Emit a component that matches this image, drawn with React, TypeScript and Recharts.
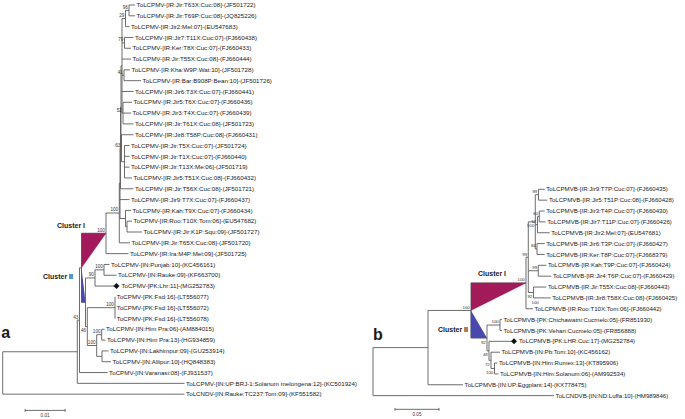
import React from 'react';
import { ScatterChart, Scatter, XAxis, YAxis, ReferenceLine } from 'recharts';

// panel a: internal nodes [id, parent, branch length, bootstrap]
const nodesA: [string, string, number, number | null][] = [
  ['R', '', 0, null],
  ['ING', 'R', 0.01865, null],
  ['N43', 'ING', 0.00055, 43],
  ['CP', 'N43', 0.0005, null],
  ['C1', 'CP', 0.006125, 100],
  ['X', 'C1', 0.003325, 100],
  ['Y', 'X', 0.000175, null],
  ['Z', 'Y', 0.000125, null],
  ['Q', 'Z', 0.000125, null],
  ['A', 'Q', 0.00025, null],
  ['N29', 'A', 0.000875, 29],
  ['N96', 'N29', 0.000875, 96],
  ['N79', 'A', 0.000625, 79],
  ['N41', 'A', 0.0005, 41],
  ['N52', 'A', 0.00025, 52],
  ['B', 'Q', 0.000125, 63],
  ['B2', 'B', 0.00075, null],
  ['W', 'Y', 0.001375, null],
  ['V', 'W', 0.000375, null],
  ['C2', 'CP', 0.001, null],
  ['N90', 'C2', 0.002375, 90],
  ['NPR', 'N90', 0.00225, 100],
  ['N46', 'C2', 0.00045, 46],
  ['NF', 'N46', 0.006925, 100],
  ['NHL', 'N46', 0.00235, 100],
  ['HP', 'NHL', 0.00125, 100],
  ['LA', 'NHL', 0.001325, null],
];

// panel a: tips in drawing order [parent, branch length, name, marked]
const tipsA: [string, number, string, boolean?][] = [
  ['N96', 0.0015, 'ToLCPMV-[IR:Jir:T63X:Cuc:08]-(JF501722)'],
  ['N96', 0.0015, 'ToLCPMV-[IR:Jir:T69P:Cuc:08]-(JQ825226)'],
  ['N29', 0.001, 'ToLCPMV-[IR:Jir2:Mel:07]-(EU547683)'],
  ['N79', 0.00225, 'ToLCPMV-[IR:Jir7:T11X:Cuc:07]-(FJ660438)'],
  ['N79', 0.001625, 'ToLCPMV-[IR:Ker:T8X:Cuc:07]-(FJ660433)'],
  ['A', 0.00225, 'ToLCPMV-[IR:Jir:T55X:Cuc:08]-(FJ660444)'],
  ['N41', 0.0015, 'ToLCPMV-[IR:Kha:W9P:Wat:10]-(JF501728)'],
  ['N41', 0.00425, 'ToLCPMV-[IR:Bar:B908P:Bean:10]-(JF501726)'],
  ['A', 0.002875, 'ToLCPMV-[IR:Jir6:T3X:Cuc:07]-(FJ660441)'],
  ['N52', 0.00225, 'ToLCPMV-[IR:Jir5:T6X:Cuc:07]-(FJ660436)'],
  ['N52', 0.002, 'ToLCPMV-[IR:Jir3:T4X:Cuc:07]-(FJ660439)'],
  ['N52', 0.002625, 'ToLCPMV-[IR:Jir:T61X:Cuc:08]-(JF501723)'],
  ['B', 0.003, 'ToLCPMV-[IR:Jir8:T58P:Cuc:08]-(FJ660431)'],
  ['B2', 0.00125, 'ToLCPMV-[IR:Jir:T5X:Cuc:07]-(JF501724)'],
  ['B2', 0.00125, 'ToLCPMV-[IR:Jir:T1X:Cuc:07]-(FJ660440)'],
  ['B2', 0.00125, 'ToLCPMV-[IR:Jir:T13X:Me:06]-(JF501719)'],
  ['B2', 0.001875, 'ToLCPMV-[IR:Jir5:T51X:Cuc:08]-(FJ660432)'],
  ['Z', 0.00325, 'ToLCPMV-[IR:Jir:T56X:Cuc:08]-(JF501721)'],
  ['Y', 0.002375, 'ToLCPMV-[IR:Jir9:T7X:Cuc:07]-(FJ660437)'],
  ['W', 0.001375, 'ToLCPMV-[IR:Kah:T9X:Cuc:07]-(FJ660434)'],
  ['V', 0.00125, 'ToCPMV-[IR:Roo:T10X:Tom:06]-(EU547682)'],
  ['V', 0.00375, 'ToLCPMV-[IR:Jir:K1P:Squ:09]-(JF501727)'],
  ['X', 0.002675, 'ToLCPMV-[IR:Jir:T65X:Cuc:08]-(JF501720)'],
  ['C1', 0.005625, 'ToLCPMV-[IR:Ira:M4P:Mel:09]-(JF501725)'],
  ['NPR', 0.001375, 'ToLCPMV-[IN:Punjab:10]-(KC456161)'],
  ['NPR', 0.003125, 'ToLCPMV-[IN:Rauke:09]-(KF663700)'],
  ['N90', 0.005375, 'ToCPMV-[PK:Lhr:11]-(MG252783)', true],
  ['NF', 0.00005, 'ToCPMV-[PK:Fsd:16]-(LT556077)'],
  ['NF', 0.00005, 'ToCPMV-[PK:Fsd:16]-(LT556072)'],
  ['NF', 0.00005, 'ToCPMV-[PK:Fsd:16]-(LT556078)'],
  ['HP', 0.0007, 'ToLCPMV-[IN:Him Pra:06]-(AM884015)'],
  ['HP', 0.00095, 'ToLCPMV-[IN:Him Pra:13]-(HG934859)'],
  ['LA', 0.001625, 'ToLCPMV-[IN:Lakhimpur:09]-(GU253914)'],
  ['LA', 0.00225, 'ToLCPMV-[IN:Allipur:10]-(HQ848383)'],
  ['N43', 0.007, 'ToCPMV-[IN:Varanasi:08]-(FJ931537)'],
  ['ING', 0.0268, 'ToLCPMV-[IN:UP:BRJ-1:Solanum melongena:12]-(KC501924)'],
  ['R', 0.04545, 'ToLCNDV-[IN:Rauke:TC237:Tom:09]-(KF551582)'],
];

// panel b: internal nodes [id, parent, branch length, bootstrap]
const nodesB: [string, string, number, number | null][] = [
  ['R', '', 0, null],
  ['ING', 'R', 0.0625, null],
  ['CP', 'ING', 0.04886, 100],
  ['C1', 'CP', 0.0625, 100],
  ['K', 'C1', 0.00261, 99],
  ['H', 'K', 0.00795, 100],
  ['N89', 'H', 0.00364, 89],
  ['N52', 'H', 0.0025, 52],
  ['N60', 'N52', 0.00205, 60],
  ['N84', 'H', 0.00193, 84],
  ['N99', 'K', 0.01136, 99],
  ['M92', 'K', 0.00591, 92],
  ['M100', 'M92', 0.00739, 100],
  ['C2', 'CP', 0.01818, 92],
  ['NCh', 'C2', 0.01477, 100],
  ['N48', 'C2', 0.00227, 48],
  ['N72', 'N48', 0.00227, 72],
  ['NRS', 'N72', 0.00398, 100],
];

const tipsB: [string, number, string, boolean?][] = [
  ['N89', 0.00705, 'ToLCPMVB-[IR:Jir9:T7P:Cuc:07]-(FJ660435)'],
  ['N89', 0.01, 'ToLCPMVB-[IR:Jir5:T51P:Cuc:08]-(FJ660428)'],
  ['N60', 0.00614, 'ToLCPMVB-[IR:Jir3:T4P:Cuc:07]-(FJ660430)'],
  ['N60', 0.00727, 'ToLCPMVB-[IR:Jir7:T11P:Cuc:07]-(FJ660426)'],
  ['N52', 0.01386, 'ToLCPMVB-[IR:Jir2:Mel:07]-(EU547681)'],
  ['N84', 0.00875, 'ToLCPMVB-[IR:Jir6:T3P:Cuc:07]-(FJ660427)'],
  ['N84', 0.00875, 'ToLCPMVB-[IR:Ker:T8P:Cuc:07]-(FJ668379)'],
  ['N99', 0.00909, 'ToLCPMVB-[IR:Kah:T9P:Cuc:07]-(FJ660424)'],
  ['N99', 0.01477, 'ToLCPMVB-[IR:Jir4:T6P:Cuc:07]-(FJ660429)'],
  ['M92', 0.01455, 'ToLCPMVB-[IR:Jir:T55X:Cuc:08]-(FJ660443)'],
  ['M100', 0.01216, 'ToLCPMVB-[IR:Jir8:T58X:Cuc:08]-(FJ660425)'],
  ['C1', 0.00795, 'ToLCPMVB-[IR:Roo:T10X:Tom:06]-(FJ660442)'],
  ['NCh', 0.00227, 'ToLCPMVB-[PK:Chichawatni:Cucmelo:05]-(FR851930)'],
  ['NCh', 0.00227, 'ToLCPMVB-[PK:Vehari:Cucmelo:05]-(FR856888)'],
  ['N48', 0.02841, 'ToLCPMVB-[PK:LHR:Cuc:17]-(MG252784)', true],
  ['N72', 0.01023, 'ToLCPMVB-[IN:Pb:Tom:10]-(KC456162)'],
  ['NRS', 0.00341, 'ToLCPMVB-[IN:Him:Rumex:13]-(KT895906)'],
  ['NRS', 0.00455, 'ToLCPMVB-[IN:Him:Solanum:06]-(AM992534)'],
  ['ING', 0.03977, 'ToLCPMVB-[IN:UP:Eggplant:14]-(KX778475)'],
  ['R', 0.20568, 'ToLCNDVB-[IN:ND:Luffa:10]-(HM989846)'],
];

// bootstrap values printed under the node instead of above it
const belowA = ['N46'];
const belowB = ['H', 'M92', 'M100', 'C2', 'N48', 'N72', 'NRS'];

const W = 685;
const H = 419;
const FONT = '"Liberation Sans", Arial, sans-serif';
const LINE = '#5c5c5c';
const MAGENTA = '#a31a5a';
const BLUE = '#4848ae';

// pixel placement of each panel: root x, px per unit, first row y, row step
const PANEL_A = { x0: 2.7, ppu: 4000, y0: 5, step: 10.81 };
const PANEL_B = { x0: 373, ppu: 880, y0: 189.3, step: 10.86 };
const xDomain = (p: typeof PANEL_A) => [-p.x0 / p.ppu, (W - p.x0) / p.ppu];
const yDomain = (p: typeof PANEL_A) => [-p.y0 / p.step, (H - p.y0) / p.step];

type TNode = {
  id: string; parent: string; len: number; support: number | null;
  label?: string; marker?: boolean; tip: boolean; children: TNode[]; x: number; y: number;
};

function buildTree(nodes: typeof nodesA, tips: typeof tipsA) {
  const byId: Record<string, TNode> = {};
  nodes.forEach(([id, parent, len, support]) => {
    byId[id] = { id, parent, len, support, tip: false, children: [], x: 0, y: 0 };
  });
  tips.forEach(([parent, len, label, marker], i) => {
    byId['t' + i] = { id: 't' + i, parent, len, support: null, label, marker: !!marker, tip: true, children: [], x: 0, y: i };
  });
  const all = Object.values(byId);
  all.forEach((n) => { if (n.parent) byId[n.parent].children.push(n); });
  const root = all.find((n) => !n.parent)!;
  const place = (n: TNode, base: number) => {
    n.x = base + n.len;
    n.children.forEach((c) => place(c, n.x));
    if (!n.tip) {
      const ys = n.children.map((c) => c.y);
      n.y = (Math.min(...ys) + Math.max(...ys)) / 2;
    }
  };
  place(root, 0);
  const hLines = all.filter((n) => n.parent).map((n) => ({ x1: byId[n.parent].x, x2: n.x, y: n.y }));
  const vLines = all.filter((n) => n.children.length > 1).map((n) => {
    const ys = n.children.map((c) => c.y);
    return { x: n.x, y1: Math.min(...ys), y2: Math.max(...ys) };
  });
  return { byId, all, hLines, vLines };
}

const treeA = buildTree(nodesA, tipsA);
const treeB = buildTree(nodesB, tipsB);

const tri = (t: typeof treeA) => {
  const cp = t.byId.CP, c1 = t.byId.C1, c2 = t.byId.C2;
  return {
    one: [{ x: cp.x, y: c1.y }, { x: c1.x, y: c1.y }, { x: cp.x, y: cp.y }],
    two: [{ x: cp.x, y: cp.y }, { x: cp.x, y: c2.y }, { x: c2.x, y: c2.y }],
  };
};

type Note = { at: [string, string]; text: string; dx: number; dy: number; anchor: string; size: number; bold?: boolean };
const notesA: Note[] = [
  { at: ['CP', 'C1'], text: 'Cluster I', dx: 3.5, dy: -5, anchor: 'end', size: 7, bold: true },
  { at: ['CP', 'CP'], text: 'Cluster II', dx: -8.5, dy: 11, anchor: 'end', size: 7, bold: true },
  { at: ['R', 'R'], text: 'a', dx: -1.5, dy: -35, anchor: 'start', size: 16, bold: true },
];
const notesB: Note[] = [
  { at: ['CP', 'C1'], text: 'Cluster I', dx: 7, dy: -7, anchor: 'start', size: 7, bold: true },
  { at: ['CP', 'CP'], text: 'Cluster II', dx: -3, dy: 22, anchor: 'end', size: 7, bold: true },
  { at: ['R', 'R'], text: 'b', dx: 0, dy: -31.5, anchor: 'start', size: 16, bold: true },
];
const noteData = (t: typeof treeA, notes: Note[]) =>
  notes.map((n) => ({ ...n, x: t.byId[n.at[0]].x, y: t.byId[n.at[1]].y }));

// scale bars: start (units), length (units), row
const SCALE_A = { start: 0.0056, len: 0.01, row: 37.5 };
const SCALE_B = { start: 0.025, len: 0.05, row: 20.26 };

const tipShape = (size: number) => (p: any) => {
  const { cx, cy, payload } = p;
  return (
    <g>
      {payload.marker && (
        <path d={`M${cx} ${cy - 3}L${cx + 3} ${cy}L${cx} ${cy + 3}L${cx - 3} ${cy}Z`} fill="#111" />
      )}
      <text x={cx + (payload.marker ? 5 : 1.6)} y={cy} dy="0.35em" fontSize={size} fill="#222" fontFamily={FONT}>
        {payload.label}
      </text>
    </g>
  );
};

const supportShape = (below: string[], size: number) => (p: any) => {
  const { cx, cy, payload } = p;
  const under = below.includes(payload.id);
  return (
    <text x={cx - 1.2} y={under ? cy + 5.6 : cy - 1.6} textAnchor="end" fontSize={size} fill="#333" fontFamily={FONT}>
      {payload.support}
    </text>
  );
};

const noteShape = (p: any) => {
  const { cx, cy, payload } = p;
  return (
    <text x={cx + payload.dx} y={cy + payload.dy} textAnchor={payload.anchor} fontSize={payload.size}
      fontWeight={payload.bold ? 700 : 400} fill="#1a1a1a" fontFamily={FONT}>
      {payload.text}
    </text>
  );
};

const empty = () => <g />;

function panel(id: string, t: typeof treeA, below: string[], notes: Note[], scale: typeof SCALE_A, tipSize: number, supSize: number) {
  const tr = tri(t);
  const tips = t.all.filter((n) => n.tip);
  const sup = t.all.filter((n) => !n.tip && n.support != null);
  const seg = (a: { x: number; y: number }, b: { x: number; y: number }, key: string, extra: any = {}) => (
    <ReferenceLine key={key} xAxisId={id} yAxisId={id} segment={[a, b]} stroke={LINE} strokeWidth={0.9} ifOverflow="visible" {...extra} />
  );
  return [
    <Scatter key={id + 'tri1'} xAxisId={id} yAxisId={id} data={tr.one} shape={empty} lineType="joint"
      line={{ fill: MAGENTA, stroke: MAGENTA, strokeWidth: 0.4 }} isAnimationActive={false} />,
    <Scatter key={id + 'tri2'} xAxisId={id} yAxisId={id} data={tr.two} shape={empty} lineType="joint"
      line={{ fill: BLUE, stroke: BLUE, strokeWidth: 0.4 }} isAnimationActive={false} />,
    ...t.hLines.map((l, i) => seg({ x: l.x1, y: l.y }, { x: l.x2, y: l.y }, id + 'h' + i)),
    ...t.vLines.map((l, i) => seg({ x: l.x, y: l.y1 }, { x: l.x, y: l.y2 }, id + 'v' + i)),
    seg({ x: scale.start, y: scale.row }, { x: scale.start + scale.len, y: scale.row }, id + 'sc', {
      label: { value: String(scale.len), position: 'bottom', offset: 3, fontSize: 4.6, fill: '#333', fontFamily: FONT },
    }),
    seg({ x: scale.start, y: scale.row - 0.13 }, { x: scale.start, y: scale.row + 0.13 }, id + 'sc1'),
    seg({ x: scale.start + scale.len, y: scale.row - 0.13 }, { x: scale.start + scale.len, y: scale.row + 0.13 }, id + 'sc2'),
    <Scatter key={id + 'tips'} xAxisId={id} yAxisId={id} data={tips} shape={tipShape(tipSize)} isAnimationActive={false} />,
    <Scatter key={id + 'sup'} xAxisId={id} yAxisId={id} data={sup} shape={supportShape(below, supSize)} isAnimationActive={false} />,
    <Scatter key={id + 'notes'} xAxisId={id} yAxisId={id} data={noteData(t, notes)} shape={noteShape} isAnimationActive={false} />,
  ];
}

export default function App() {
  return (
    <div style={{ width: W, height: H, background: '#fff' }}>
      <style>{'body{margin:0}'}</style>
      <ScatterChart width={W} height={H} margin={{ top: 0, right: 0, bottom: 0, left: 0 }}>
        <XAxis xAxisId="a" type="number" dataKey="x" domain={xDomain(PANEL_A)} hide allowDataOverflow />
        <XAxis xAxisId="b" type="number" dataKey="x" domain={xDomain(PANEL_B)} hide allowDataOverflow />
        <YAxis yAxisId="a" type="number" dataKey="y" domain={yDomain(PANEL_A)} reversed hide allowDataOverflow />
        <YAxis yAxisId="b" type="number" dataKey="y" domain={yDomain(PANEL_B)} reversed hide allowDataOverflow />
        {panel('a', treeA, belowA, notesA, SCALE_A, 6.2, 4.6)}
        {panel('b', treeB, belowB, notesB, SCALE_B, 6.1, 4.4)}
      </ScatterChart>
    </div>
  );
}
